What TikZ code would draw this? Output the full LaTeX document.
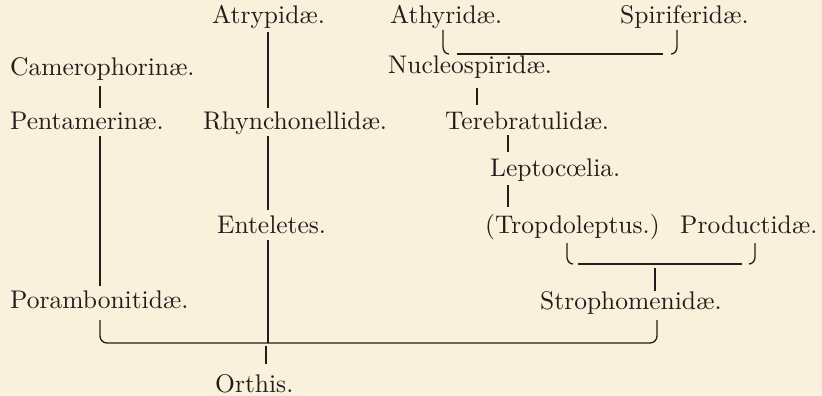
\documentclass[tikz,border=0pt]{standalone}
\usetikzlibrary{calc}
\definecolor{paper}{HTML}{FAF1DD}
\definecolor{ink}{HTML}{221D19}
\font\labfont="[lmroman10-regular.otf]" at 25.5pt
\begin{document}
\begin{tikzpicture}[x=1pt,y=-1pt,
  lbl/.style={inner sep=0pt, anchor=base west, text=ink,
    font=\labfont, text height=17.5pt, text depth=5pt},
  link/.style={draw=ink, line width=1.3pt}]
\fill[paper] (0,0) rectangle (822,396);
\useasboundingbox (0,0) rectangle (822,396);
% labels
\node[lbl] (atry)   at (212,24)  {Atrypidæ.};
\node[lbl] (athy)   at (390,24)  {Athyridæ.};
\node[lbl] (spir)   at (620,24)  {Spiriferidæ.};
\node[lbl] (camero) at (10,75)   {Camerophorinæ.};
\node[lbl] (nucl)   at (388,74)  {Nucleospiridæ.};
\node[lbl] (penta)  at (10,129)  {Pentamerinæ.};
\node[lbl] (rhyn)   at (203,129) {Rhynchonellidæ.};
\node[lbl] (tere)   at (445,129) {Terebratulidæ.};
\node[lbl] (lept)   at (490,176) {Leptocœlia.};
\node[lbl] (ente)   at (217,233) {Enteletes.};
\node[lbl] (trop)   at (485,233) {(Tropdoleptus.)};
\node[lbl] (prod)   at (680,233) {Productidæ.};
\node[lbl] (poramb) at (10,308)  {Porambonitidæ.};
\node[lbl] (stro)   at (540,309) {Strophomenidæ.};
\node[lbl, text depth=0pt] (orth) at (215,392) {Orthis.};
% columns
\coordinate (xa) at (100,0);
\coordinate (xb) at (268,0);
\coordinate (xo) at (266,0);
\coordinate (xn) at (477,0);
\coordinate (xt) at (508,0);
\coordinate (xs) at (655,0);
\coordinate (xl1) at (443,0);
\coordinate (xr1) at (677,0);
\coordinate (xl2) at (567,0);
\coordinate (xr2) at (755,0);
\coordinate (xsr) at (657,0);
% left column
\draw[link] ($(camero.base -| xa)+(0,11)$) -- ($(penta.base -| xa)+(0,-21)$);
\draw[link] ($(penta.base -| xa)+(0,7)$) -- ($(poramb.base -| xa)+(0,-22)$);
% middle column
\draw[link] ($(atry.base -| xb)+(0,8)$) -- ($(rhyn.base -| xb)+(0,-21)$);
\draw[link] ($(rhyn.base -| xb)+(0,7)$) -- ($(ente.base -| xb)+(0,-23)$);
\coordinate (bot) at ($(poramb.base)+(0,35)$);
\draw[link] ($(ente.base -| xb)+(0,7)$) -- (bot -| xb);
\draw[link] ($(bot -| xo)+(0,3)$) -- ($(orth.base -| xo)+(0,-28)$);
% big bottom bracket
\draw[link] ($(poramb.base -| xa)+(0,12)$) -- ($(bot -| xa)+(0,-7)$)
  to[out=-90,in=180] ($(bot -| xa)+(7,0)$) -- ($(bot -| xsr)+(-7,0)$)
  to[out=0,in=-90] ($(bot -| xsr)+(0,-7)$) -- ($(stro.base -| xsr)+(0,11)$);
% top bracket Athyridae / Spiriferidae
\coordinate (b1) at ($(athy.base)+(0,30)$);
\draw[link] ($(athy.base -| xl1)+(0,6)$) -- ($(b1 -| xl1)+(0,-7)$) to[out=-90,in=180] ($(b1 -| xl1)+(6,0)$);
\draw[link] ($(b1 -| xl1)+(14,0)$) -- ($(b1 -| xr1)+(-14,0)$);
\draw[link] ($(b1 -| xr1)+(-6,0)$) to[out=0,in=-90] ($(b1 -| xr1)+(0,-7)$) -- ($(spir.base -| xr1)+(0,6)$);
% right column
\draw[link] ($(nucl.base -| xn)+(0,14)$) -- ($(tere.base -| xn)+(0,-24)$);
\draw[link] ($(tere.base -| xt)+(0,6)$) -- ($(lept.base -| xt)+(0,-24)$);
\draw[link] ($(lept.base -| xt)+(0,9)$) -- ($(trop.base -| xt)+(0,-26)$);
% bracket Tropdoleptus / Productidae
\coordinate (b2) at ($(trop.base)+(0,31)$);
\draw[link] ($(trop.base -| xl2)+(0,10)$) -- ($(b2 -| xl2)+(0,-7)$) to[out=-90,in=180] ($(b2 -| xl2)+(6,0)$);
\draw[link] ($(b2 -| xl2)+(11,0)$) -- ($(b2 -| xr2)+(-13,0)$);
\draw[link] ($(b2 -| xr2)+(-6,0)$) to[out=0,in=-90] ($(b2 -| xr2)+(0,-7)$) -- ($(prod.base -| xr2)+(0,10)$);
\draw[link] ($(b2 -| xs)+(0,4)$) -- ($(stro.base -| xs)+(0,-18)$);
\end{tikzpicture}
\end{document}
